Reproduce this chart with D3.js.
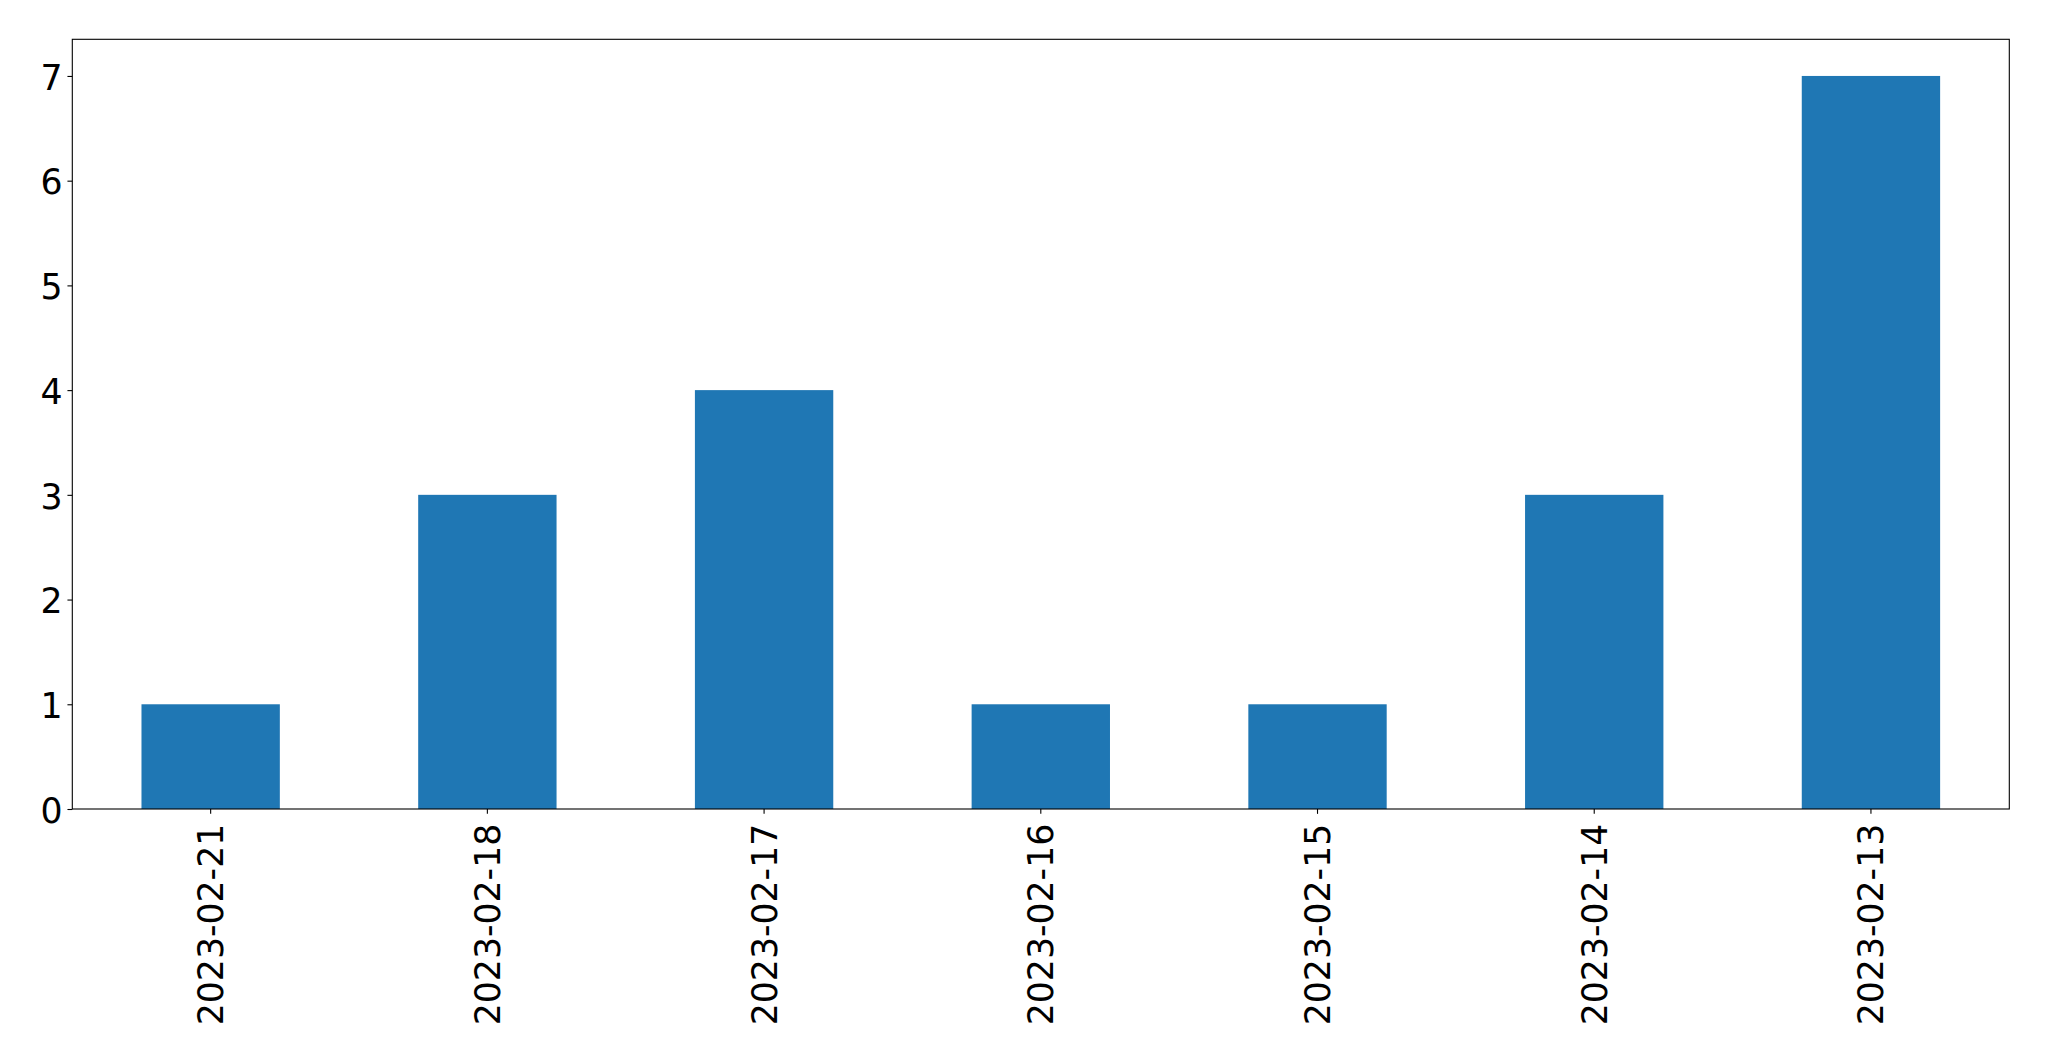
<!DOCTYPE html>
<html>
<head>
<meta charset="utf-8">
<script src="https://cdn.jsdelivr.net/npm/d3@7"></script>
<style>
  html, body { margin: 0; padding: 0; background: #fff; }
  svg { display: block; }
</style>
</head>
<body>
<svg id="chart" width="2049" height="1061"></svg>
<script>
const categories = ["2023-02-21", "2023-02-18", "2023-02-17", "2023-02-16", "2023-02-15", "2023-02-14", "2023-02-13"];
const values = [1, 3, 4, 1, 1, 3, 7];
const yTicks = [0, 1, 2, 3, 4, 5, 6, 7];

const W = 2049, H = 1061;
const margin = { left: 72.3, right: W - 2009.3, top: 39.3, bottom: H - 809 };
const iw = W - margin.left - margin.right;
const ih = H - margin.top - margin.bottom;
const fontSize = 34.7;
const tickLen = 4.86, tickPad = 4.86;

const svg = d3.select("#chart");
const g = svg.append("g").attr("transform", `translate(${margin.left},${margin.top})`);

const x = d3.scaleBand().domain(categories).range([0, iw]).paddingInner(0.5).paddingOuter(0.25);
const yMax = d3.max(values) * 1.05;
const y = d3.scaleLinear().domain([0, yMax]).range([ih, 0]);

g.selectAll("rect.bar").data(values).join("rect")
  .attr("class", "bar")
  .attr("x", (d, i) => x(categories[i]))
  .attr("width", x.bandwidth())
  .attr("y", d => y(d))
  .attr("height", d => y(0) - y(d))
  .attr("fill", "#1f77b4");

const yAxis = d3.axisLeft(y).tickValues(yTicks).tickFormat(d3.format("d")).tickSize(tickLen).tickPadding(tickPad);
const ya = g.append("g").call(yAxis);
ya.select(".domain").remove();
ya.selectAll(".tick line").attr("stroke", "#000").attr("stroke-width", 1.1);
ya.selectAll(".tick text")
  .attr("font-family", "DejaVu Sans")
  .attr("font-size", fontSize)
  .attr("fill", "#000")
  .attr("dy", "0.38em");

const xAxis = d3.axisBottom(x).tickSize(tickLen).tickPadding(0);
const xa = g.append("g").attr("transform", `translate(0,${ih})`).call(xAxis);
xa.select(".domain").remove();
xa.selectAll(".tick line").attr("stroke", "#000").attr("stroke-width", 1.1);
xa.selectAll(".tick text")
  .attr("font-family", "DejaVu Sans")
  .attr("font-size", fontSize)
  .attr("fill", "#000")
  .attr("text-anchor", "end")
  .attr("x", 0)
  .attr("y", 0)
  .attr("dy", "0.36em")
  .attr("transform", `translate(0,${tickLen + tickPad + 5}) rotate(-90)`);

g.append("rect")
  .attr("x", 0).attr("y", 0).attr("width", iw).attr("height", ih)
  .attr("fill", "none").attr("stroke", "#000").attr("stroke-width", 1.1);
</script>
</body>
</html>
